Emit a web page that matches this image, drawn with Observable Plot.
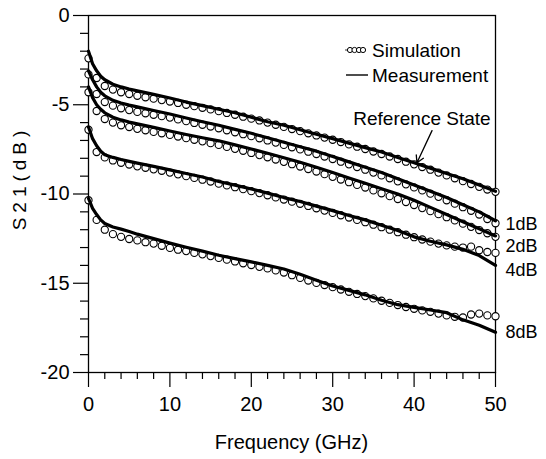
<!DOCTYPE html>
<html><head><meta charset="utf-8">
<script src="https://cdn.jsdelivr.net/npm/d3@7"></script>
<script src="https://cdn.jsdelivr.net/npm/@observablehq/plot@0.6"></script>
<style>
body{margin:0;background:#fff}
#chart{position:relative;width:546px;height:459px}
svg{font-family:"Liberation Sans", Arial, sans-serif}
</style>
</head><body><div id="chart"></div>
<script>
// Measurement (solid lines), frequency in GHz, S21 in dB
const measFreq = [0,0.5,1,1.5,2,3,4,5,6,8,10,12,14,16,18,20,22,24,26,28,30,32,34,36,38,40,42,44,46,48,50];
const measRef = [-2.0,-2.7,-3.1,-3.4,-3.6,-3.85,-4.0,-4.12,-4.22,-4.42,-4.62,-4.85,-5.05,-5.25,-5.45,-5.7,-5.95,-6.15,-6.4,-6.65,-6.9,-7.15,-7.4,-7.65,-7.95,-8.25,-8.55,-8.85,-9.15,-9.5,-9.85];
const meas1dB = [-3.1,-3.6,-4.0,-4.3,-4.5,-4.75,-4.9,-5.02,-5.12,-5.32,-5.52,-5.74,-5.95,-6.15,-6.38,-6.6,-6.85,-7.1,-7.35,-7.6,-7.9,-8.2,-8.5,-8.8,-9.15,-9.5,-9.85,-10.2,-10.6,-11.0,-11.5];
const meas2dB = [-4.0,-4.6,-5.0,-5.25,-5.45,-5.7,-5.85,-5.97,-6.07,-6.27,-6.47,-6.67,-6.85,-7.02,-7.25,-7.48,-7.72,-7.97,-8.22,-8.5,-8.8,-9.1,-9.4,-9.7,-10.0,-10.35,-10.75,-11.15,-11.55,-11.95,-12.35];
const meas4dB = [-6.25,-6.9,-7.3,-7.6,-7.8,-7.95,-8.07,-8.17,-8.27,-8.45,-8.65,-8.85,-9.05,-9.3,-9.5,-9.72,-9.95,-10.2,-10.42,-10.68,-10.93,-11.2,-11.45,-11.75,-12.05,-12.4,-12.65,-12.85,-13.1,-13.45,-14.0];
const meas8dB = [-10.25,-10.8,-11.15,-11.45,-11.65,-11.85,-11.97,-12.1,-12.25,-12.5,-12.75,-12.98,-13.2,-13.43,-13.62,-13.8,-14.0,-14.2,-14.5,-14.83,-15.15,-15.4,-15.65,-15.95,-16.2,-16.35,-16.5,-16.65,-17.05,-17.35,-17.75];

// Simulation (open circles), one every GHz
const simFreq = [0,1,2,3,4,5,6,7,8,9,10,11,12,13,14,15,16,17,18,19,20,21,22,23,24,25,26,27,28,29,30,31,32,33,34,35,36,37,38,39,40,41,42,43,44,45,46,47,48,49,50];
const simRef = [-2.4,-3.5,-3.95,-4.15,-4.3,-4.4,-4.5,-4.58,-4.66,-4.74,-4.82,-4.9,-5.0,-5.08,-5.17,-5.26,-5.36,-5.46,-5.56,-5.67,-5.78,-5.88,-6.0,-6.12,-6.24,-6.36,-6.48,-6.6,-6.72,-6.84,-6.96,-7.09,-7.22,-7.35,-7.48,-7.62,-7.76,-7.9,-8.04,-8.19,-8.34,-8.49,-8.64,-8.8,-8.96,-9.12,-9.28,-9.44,-9.6,-9.75,-9.88];
const sim1dB = [-3.3,-4.4,-4.85,-5.05,-5.2,-5.3,-5.4,-5.48,-5.56,-5.64,-5.72,-5.82,-5.92,-6.02,-6.12,-6.22,-6.32,-6.43,-6.54,-6.65,-6.76,-6.88,-7.0,-7.12,-7.25,-7.38,-7.5,-7.63,-7.76,-7.9,-8.04,-8.19,-8.34,-8.49,-8.64,-8.8,-8.96,-9.12,-9.29,-9.46,-9.63,-9.8,-9.98,-10.16,-10.35,-10.54,-10.74,-10.94,-11.15,-11.4,-11.64];
const sim2dB = [-4.3,-5.35,-5.8,-6.0,-6.15,-6.25,-6.35,-6.43,-6.52,-6.6,-6.69,-6.78,-6.87,-6.96,-7.05,-7.15,-7.25,-7.36,-7.47,-7.58,-7.7,-7.82,-7.94,-8.07,-8.2,-8.33,-8.46,-8.6,-8.74,-8.89,-9.04,-9.19,-9.34,-9.49,-9.64,-9.8,-9.96,-10.12,-10.28,-10.45,-10.62,-10.79,-10.96,-11.13,-11.3,-11.48,-11.66,-11.84,-12.02,-12.2,-12.4];
const sim4dB = [-6.4,-7.65,-7.95,-8.12,-8.25,-8.35,-8.45,-8.53,-8.62,-8.7,-8.8,-8.9,-9.0,-9.1,-9.2,-9.3,-9.42,-9.52,-9.62,-9.73,-9.84,-9.95,-10.07,-10.19,-10.31,-10.43,-10.55,-10.67,-10.8,-10.93,-11.06,-11.19,-11.32,-11.45,-11.58,-11.72,-11.86,-12.0,-12.14,-12.28,-12.42,-12.55,-12.67,-12.78,-12.88,-12.95,-13.0,-12.95,-13.15,-13.25,-13.3];
const sim8dB = [-10.35,-11.45,-12.0,-12.25,-12.4,-12.52,-12.6,-12.7,-12.78,-12.9,-13.02,-13.12,-13.2,-13.3,-13.38,-13.48,-13.58,-13.68,-13.78,-13.88,-13.98,-14.08,-14.17,-14.28,-14.4,-14.55,-14.7,-14.85,-14.98,-15.1,-15.22,-15.35,-15.48,-15.6,-15.72,-15.85,-15.98,-16.1,-16.22,-16.33,-16.43,-16.52,-16.6,-16.7,-16.8,-16.88,-16.92,-16.75,-16.7,-16.8,-16.85];

const stateNames = ["Reference State","1dB","2dB","4dB","8dB"];
const measSeries = [measRef, meas1dB, meas2dB, meas4dB, meas8dB];
const simSeries = [simRef, sim1dB, sim2dB, sim4dB, sim8dB];

// curve end labels
const endLabels = ["1dB","2dB","4dB","8dB"];
const endLabelDb = [-11.68,-12.95,-14.29,-17.76];

// ticks
const xMajorTicks = [0,10,20,30,40,50];
const xMinorTicks = [2,4,6,8,12,14,16,18,22,24,26,28,32,34,36,38,42,44,46,48];
const yMajorTicks = [-20,-15,-10,-5,0];
const yMinorTicks = [-19,-18,-17,-16,-14,-13,-12,-11,-9,-8,-7,-6,-4,-3,-2,-1];

// "Reference State" annotation (data coordinates)
const refNote = {f: 49.4, db: -5.8, text: "Reference State"};
const refArrow = {f1: 42.2, db1: -6.45, f2: 40.35, db2: -8.25};

const meas = measSeries.flatMap((s, k) => measFreq.map((f, i) => ({f, db: s[i], state: stateNames[k]})));
const sim = simSeries.flatMap((s, k) => simFreq.map((f, i) => ({f, db: s[i], state: stateNames[k]})));
const labels = endLabels.map((t, i) => ({f: 50, db: endLabelDb[i], text: t}));

const fmt = d => String(d);

const plot = Plot.plot({
  width: 546,
  height: 459,
  marginLeft: 88,
  marginRight: 51,
  marginTop: 15,
  marginBottom: 87,
  style: {fontFamily: "'Liberation Sans', Arial, sans-serif", fontSize: "20px", color: "black", background: "white"},
  x: {domain: [0, 50]},
  y: {domain: [-20, 0]},
  marks: [
    Plot.axisY(yMinorTicks, {tickSize: 8, text: null, label: null, strokeWidth: 1.2}),
    Plot.axisY(yMajorTicks, {tickSize: 15, tickPadding: 4, tickFormat: fmt, label: null, fontSize: 20, strokeWidth: 1.2}),
    Plot.axisX(xMinorTicks, {tickSize: 7, text: null, label: null, strokeWidth: 1.2}),
    Plot.axisX(xMajorTicks, {tickSize: 15, tickPadding: 9, tickFormat: fmt, label: null, fontSize: 20, strokeWidth: 1.2}),
    Plot.frame({stroke: "black", strokeWidth: 1.3}),
    Plot.dot(sim, {x: "f", y: "db", r: 3.6, fill: "white", stroke: "black", strokeWidth: 1.1}),
    Plot.line(meas, {x: "f", y: "db", z: "state", stroke: "black", strokeWidth: 3.2}),
    Plot.text(labels, {x: "f", y: "db", text: "text", textAnchor: "start", dx: 10, fontSize: 18}),
    Plot.text([refNote], {x: "f", y: "db", text: "text", textAnchor: "end", fontSize: 19}),
    Plot.arrow([refArrow], {x1: "f1", y1: "db1", x2: "f2", y2: "db2", stroke: "black", strokeWidth: 1.3, headLength: 9})
  ]
});

document.getElementById("chart").appendChild(plot);

// Legend, axis titles
const svg = d3.select(plot);
const lg = svg.append("g").attr("font-size", 19).attr("fill", "black").attr("text-anchor", "start");
lg.append("line").attr("x1", 345).attr("x2", 366).attr("y1", 50).attr("y2", 50).attr("stroke", "black").attr("stroke-width", 0.8);
[350, 354.5, 359, 363].forEach(cx => lg.append("circle").attr("cx", cx).attr("cy", 50).attr("r", 2.6).attr("fill", "white").attr("stroke", "black").attr("stroke-width", 1));
lg.append("text").attr("x", 372).attr("y", 50).attr("dy", "0.35em").text("Simulation");
lg.append("line").attr("x1", 346).attr("x2", 368).attr("y1", 75).attr("y2", 75).attr("stroke", "black").attr("stroke-width", 1.4);
lg.append("text").attr("x", 372).attr("y", 75).attr("dy", "0.35em").text("Measurement");

svg.append("text").attr("x", 291.5).attr("y", 442).attr("dy", "0.35em").attr("text-anchor", "middle").attr("font-size", 20).attr("fill", "black").text("Frequency (GHz)");
svg.append("text").attr("transform", "translate(19,178) rotate(-90)").attr("dy", "0.35em").attr("text-anchor", "middle").attr("font-size", 19).attr("letter-spacing", "5px").attr("fill", "black").text("S21(dB)");
</script>
</body></html>
